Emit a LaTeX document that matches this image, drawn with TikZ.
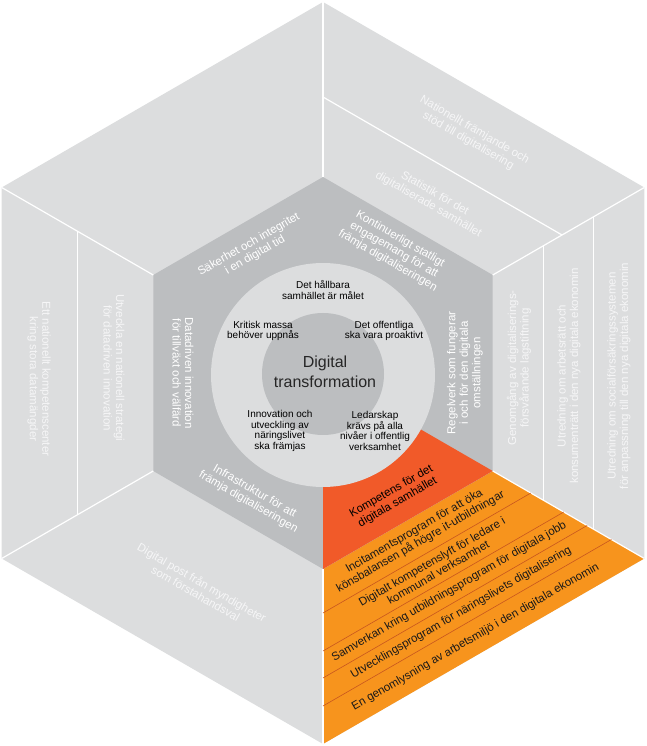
\documentclass[tikz,border=0pt]{standalone}
\usepackage{fontspec}
\setmainfont{Liberation Sans}
\usepackage{tikz}
\usetikzlibrary{calc}
\definecolor{ringgrey}{HTML}{DCDDDE}
\definecolor{hexgrey}{HTML}{BCBEC0}
\definecolor{kompred}{HTML}{F15A29}
\definecolor{kompor}{HTML}{F7941D}
\definecolor{oline}{HTML}{C8561F}
\definecolor{striptext}{HTML}{F6F6F7}
\tikzset{
  seg/.style={text=white,font=\fontsize{11.5}{12.5}\selectfont,align=center,inner sep=0pt},
  strip/.style={text=striptext,font=\fontsize{11.5}{12.5}\selectfont,align=center,inner sep=0pt},
  core/.style={text=black,font=\fontsize{10}{10.8}\selectfont,align=center,inner sep=0pt},
  band/.style={text=black!90,font=\fontsize{11.5}{12.5}\selectfont,align=center,inner sep=0pt},
  wline/.style={white,line width=1.2pt},
  bline/.style={oline,line width=0.6pt},
}

\begin{document}
\begin{tikzpicture}[x=1pt,y=1pt]
  \useasboundingbox (-323,-373) rectangle (324,373);
  % hexagons
  \fill[ringgrey] (90:371) -- (150:371) -- (210:371) -- (270:371) -- (330:371) -- (30:371) -- cycle;
  \fill[kompor] (270:371) -- (330:371) -- (330:196) -- (270:196) -- cycle;
  \fill[hexgrey] (90:196) -- (150:196) -- (210:196) -- (270:196) -- (330:196) -- (30:196) -- cycle;
  \fill[kompred] (0,0) -- (270:196) -- (330:196) -- cycle;
  \fill[ringgrey] (0,-2) circle (112pt);
  \fill[hexgrey] (0,-1) circle (61pt);
  % spokes and strips
  \foreach \a in {30,90,...,330}
    \draw[wline] (\a:196) -- (\a:371);
  \draw[wline] (90:276) -- (30:276);
  \foreach \r in {254.4,312.6}
    \draw[wline] (30:\r) -- (330:\r);
  \draw[wline] (150:283.5) -- (210:283.5);
  \foreach \r in {240,278,305,333}
    \draw[bline] (270:\r) -- (330:\r);

  % centre
  \node[font=\fontsize{16}{19.5}\selectfont,align=center,text=black!85] (digtr) at (2,1) {Digital\\transformation};
  \node[core] (mal) at (0,83) {Det hållbara\\samhället är målet};
  \node[core] (massa) at (-60,42) {Kritisk massa\\behöver uppnås};
  \node[core] (offentl) at (61,42) {Det offentliga\\ska vara proaktivt};
  \node[core] (innov) at (-43,-58) {Innovation och\\utveckling av\\näringslivet\\ska främjas};
  \node[core] (ledar) at (52,-58) {Ledarskap\\krävs på alla\\nivåer i offentlig\\verksamhet};

  % inner hexagon
  \node[seg,rotate=30] (sak) at (120:142) {Säkerhet och integritet\\i en digital tid};
  \node[seg,rotate=-30] (kont) at (60:142) {Kontinuerligt statligt\\engagemang för att\\främja digitaliseringen};
  \node[seg,rotate=90] (regel) at (0:142) {Regelverk som fungerar\\i och för den digitala\\omställningen};
  \node[seg,rotate=30,text=black] (komp) at (300:143) {Kompetens för det\\digitala samhället};
  \node[seg,rotate=-30] (infra) at (240:143) {Infrastruktur för att\\främja digitaliseringen};
  \node[seg,rotate=-90] (data) at (180:140) {Datadriven innovation\\för tillväxt och välfärd};

  % outer ring
  \node[strip,rotate=-30] (framj) at (58:280) {Nationellt främjande och\\stöd till digitalisering};
  \node[strip,rotate=-30] (stat) at (58:205) {Statistik för det\\digitaliserade samhället};
  \node[strip,rotate=90] (genom) at (196,5) {Genomgång av digitaliserings-\\försvårande lagstiftning};
  \node[strip,rotate=90] (arbr) at (246,-3) {Utredning om arbetsrätt och\\konsumenträtt i den nya digitala ekonomin};
  \node[strip,rotate=90] (soc) at (296,-3) {Utredning om socialförsäkringssystemen\\för anpassning till den nya digitala ekonomin};
  \node[strip,rotate=-90] (strat) at (-209,5) {Utveckla en nationell strategi\\för datadriven innovation};
  \node[strip,rotate=-90] (kcent) at (-284,-6) {Ett nationellt kompetenscenter\\kring stora datamängder};
  \node[strip,rotate=-30] (post) at (240:248) {Digital post från myndigheter\\som förstahandsval};

  % orange strips
  \node[band,rotate=30] (incit) at (300:189) {Incitamentsprogram för att öka\\könsbalansen på högre it-utbildningar};
  \node[band,rotate=30] (lyft) at (300:224) {Digitalt kompetenslyft för ledare i\\kommunal verksamhet};
  \node[band,rotate=30] (samv) at (300:252.5) {Samverkan kring utbildningsprogram för digitala jobb};
  \node[band,rotate=30] (utv) at (300:276.5) {Utvecklingsprogram för näringslivets digitalisering};
  \node[band,rotate=30] (genoml) at (300:305) {En genomlysning av arbetsmiljö i den digitala ekonomin};
\end{tikzpicture}
\end{document}
